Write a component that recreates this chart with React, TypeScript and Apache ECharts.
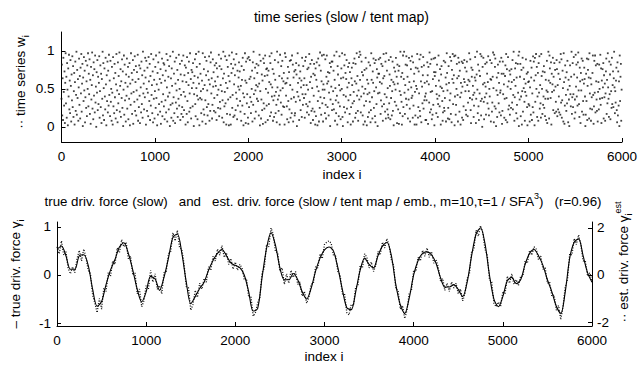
import React, { useEffect, useRef } from "react";
import * as echarts from "echarts";

// ---------- data ----------
const xTicks = [0, 1000, 2000, 3000, 4000, 5000, 6000];
const wTicks = [0, 0.5, 1];
const gammaTicks = [-1, 0, 1];
const gammaEstTicks = [-2, 0, 2];

// time series w_i (percent), one value every W_STEP indices
const W_STEP = 4;
const wPct = [
37,82,15,64,9,91,46,28,73,5,58,97,31,66,12,84,49,2,77,40,95,23,61,18,88,
54,7,69,35,93,26,80,13,47,71,3,59,86,21,42,99,16,75,38,63,8,52,90,29,67,
11,78,44,96,20,57,83,1,65,34,92,48,74,6,39,87,25,60,14,81,50,97,27,70,43,
89,17,62,4,79,36,55,98,24,68,10,85,41,76,19,94,32,53,0,72,45,88,22,66,30,
58,93,12,47,81,26,70,5,63,37,99,15,84,51,9,77,40,23,91,56,2,68,34,86,19,
74,28,95,42,61,14,87,33,50,8,79,45,3,92,27,64,18,83,39,71,11,56,96,22,48,
6,85,31,67,43,98,20,54,76,13,60,38,89,25,73,1,49,94,16,82,35,58,7,69,41,
90,24,53,79,10,66,37,84,2,57,29,97,44,71,17,62,88,4,46,75,33,93,21,59,80,
15,48,72,36,95,8,63,26,81,41,5,77,52,19,86,30,68,12,99,44,57,23,74,39,91,
65,3,87,50,21,78,45,14,92,60,34,83,9,67,28,96,42,55,18,73,6,89,37,62,11,
47,79,25,94,38,56,2,71,16,85,49,30,98,63,20,76,4,58,33,90,14,68,43,84,27,
82,10,61,35,74,19,96,52,7,88,40,66,23,80,45,1,93,29,64,12,77,54,31,99,8,
39,70,18,86,5,57,32,91,48,24,75,13,62,37,95,28,50,83,9,69,42,17,87,26,60,
13,94,46,22,68,81,40,3,78,59,17,92,34,6,71,55,86,20,44,97,25,63,11,75,51,
72,27,84,58,1,43,67,89,30,14,96,51,79,41,10,65,36,99,57,2,83,38,70,47,18,
36,61,7,97,50,23,76,16,55,92,35,4,68,87,26,48,15,73,30,62,93,8,56,21,85,
98,44,64,11,29,89,53,72,21,38,81,60,19,54,84,9,77,42,66,25,49,95,14,80,33,
24,55,90,76,47,12,35,64,99,6,70,27,46,93,31,58,3,88,17,51,79,36,67,2,94,
60,16,39,3,83,71,98,25,42,77,13,89,56,15,68,82,22,45,96,37,10,74,28,53,65,
85,49,73,34,20,54,8,80,62,28,91,44,2,75,39,17,97,61,5,86,58,31,43,90,12,
4,92,26,63,88,39,66,18,33,50,74,7,85,29,99,43,64,11,78,48,20,55,83,37,71,
53,34,81,15,57,95,2,47,87,11,36,69,22,61,4,90,31,84,24,67,94,6,50,76,28,
77,68,9,45,74,30,59,93,14,84,56,19,97,40,52,76,8,35,70,13,41,88,62,18,46,
29,6,99,52,36,85,21,41,67,3,95,48,32,80,16,64,87,51,27,60,71,26,3,97,57,
92,41,58,27,10,64,79,34,6,72,23,87,55,12,88,37,18,94,49,82,7,65,39,73,15,
18,75,33,84,69,1,46,97,58,40,81,9,64,35,73,22,52,61,13,91,43,29,80,55,38,
64,12,87,43,92,30,55,19,76,27,49,78,16,96,33,59,83,5,66,21,88,51,24,9,70,
41,83,20,68,3,77,14,62,85,53,2,34,90,47,7,81,25,98,39,74,16,60,94,31,49,
7,56,95,38,49,18,89,29,11,66,94,57,26,72,60,15,45,71,84,1,36,79,53,86,22,
86,30,47,74,23,94,62,8,51,35,18,99,41,3,80,69,32,14,55,93,27,48,10,64,77,
50,97,13,1,65,42,26,81,95,19,71,40,63,88,24,52,6,79,35,58,84,17,72,42,3,
26,64,78,55,31,7,84,46,34,90,60,12,83,18,57,97,41,67,21,8,48,92,36,99,62,
95,19,40,86,72,53,15,68,3,44,28,75,7,50,91,34,77,2,62,43,13,57,85,19,45,
33,81,6,22,97,62,39,11,73,58,90,25,47,84,14,6,88,52,30,76,65,1,44,70,89,
70,45,59,91,17,35,83,57,27,80,8,64,96,30,67,43,20,86,11,97,39,74,23,51,16,
12,88,31,69,54,10,92,38,62,15,47,86,21,59,2,78,56,33,73,49,91,28,66,5,82,
57,23,74,4,80,47,18,99,42,66,33,3,71,14,94,26,63,99,45,17,55,82,37,93,29,
81,66,11,49,36,91,59,24,7,87,76,52,38,93,41,12,85,28,60,70,3,46,15,78,54,
3,50,96,77,12,26,73,44,89,21,14,95,60,6,79,53,31,68,92,24,81,35,58,40,9,
44,9,35,60,85,68,4,79,56,32,98,19,83,46,23,89,10,47,16,63,29,90,72,2,67,
91,72,54,18,43,82,37,13,30,94,61,41,27,76,53,3,69,80,51,34,8,19,47,87,25,
21,38,85,65,7,56,97,71,48,11,25,80,58,10,35,92,44,17,87,6,75,63,96,30,58,
68,93,2,40,94,16,29,50,83,64,42,7,91,67,85,20,74,39,3,58,45,86,12,53,84,
9,27,63,88,59,78,47,22,16,73,86,55,14,32,62,47,97,60,38,89,22,5,78,66,36,
75,54,42,13,28,45,65,92,61,5,37,69,99,49,18,82,27,9,74,44,67,96,34,15,93,
37,0,79,56,91,33,10,58,39,83,53,16,44,85,70,31,59,93,24,15,50,40,88,63,7,
62,84,20,32,66,98,51,6,95,27,79,90,24,1,48,65,13,42,82,71,31,58,19,86,45,
48,15,91,70,4,21,86,43,70,56,12,37,67,81,9,96,38,76,6,53,92,23,60,28,74,
16,69,50,25,76,59,32,88,23,42,99,62,8,39,77,54,84,18,65,29,11,83,45,94,1,
99,36,66,83,14,40,75,3,47,91,20,78,51,63,33,8,46,57,89,41,70,26,2,72,59,
30,60,28,7,52,87,16,65,78,9,44,26,93,19,86,61,2,91,33,68,96,50,79,13,40,
71,8,84,45,93,24,55,31,12,96,67,50,17,73,29,40,80,25,72,14,37,62,9,48,87,
5,46,37,99,61,11,94,77,58,38,85,3,70,46,56,91,22,66,48,84,18,75,53,33,20,
88,76,14,55,23,70,40,19,85,63,16,96,32,89,12,35,74,51,7,97,59,4,28,81,65,
42,21,72,31,87,49,6,62,36,1,54,81,43,27,66,99,17,39,84,26,43,92,69,11,36,
19,95,53,82,40,65,28,85,98,48,30,13,78,60,5,71,48,90,20,62,87,34,16,57,78,
63,40,1,16,70,34,90,9,54,75,89,65,11,97,44,24,64,8,56,39,23,71,94,42,4,
27,87,45,94,19,81,60,36,21,83,7,46,59,23,82,50,37,95,29,77,5,61,38,76,52,
84,11,68,39,57,8,44,73,90,17,62,31,97,52,37,13,86,43,69,10,82,47,25,91,30,
55,73,26,64,99,52,18,47,32,61,78,22,6,85,15,73,28,60,1,94,34,66,83,8,49
];

// true driving force gamma_i, one value every GAMMA_STEP indices
const GAMMA_STEP = 50;
const gammaTrue = [
0.53,0.60,0.40,0.12,0.12,0.40,0.42,0.20,-0.30,-0.65,
-0.55,-0.20,0.10,0.32,0.58,0.67,0.45,0.10,-0.30,-0.56,
-0.35,-0.03,-0.08,-0.32,-0.05,0.35,0.78,0.85,0.45,-0.15,
-0.60,-0.45,-0.28,-0.15,0.10,0.30,0.45,0.53,0.40,0.25,
0.20,0.15,0.00,-0.35,-0.75,-0.70,-0.05,0.55,0.88,0.62,
0.15,-0.10,-0.10,0.03,-0.10,-0.35,-0.50,-0.28,0.08,0.35,
0.52,0.58,0.50,0.15,-0.30,-0.68,-0.72,-0.35,0.10,0.35,
0.22,0.15,0.40,0.60,0.68,0.40,-0.20,-0.62,-0.80,-0.48,
0.00,0.30,0.45,0.48,0.42,0.25,-0.05,-0.25,-0.25,-0.20,
-0.30,-0.45,-0.15,0.40,0.85,0.98,0.65,0.00,-0.50,-0.66,
-0.45,-0.12,-0.05,-0.18,-0.10,0.22,0.45,0.53,0.40,0.20,
-0.10,-0.35,-0.65,-0.80,-0.35,0.35,0.68,0.75,0.40,0.05,
-0.15
];

// estimated driving force gamma_i^est, one value every EST_STEP indices
const EST_STEP = 25;
const gammaEst = [
1.2,0.9,1.45,0.85,1.0,0.3,0.05,0.35,0.1,0.7,1.05,0.6,1.1,0.75,0.2,0.05,-0.85,-1.2,-1.6,-1.0,
-1.45,-0.55,-0.7,0.1,-0.05,0.6,0.45,1.15,0.95,1.5,1.2,1.4,0.7,0.8,0.0,0.1,-0.8,-0.6,-1.35,-1.1,
-0.45,-0.6,0.2,-0.3,0.05,-0.6,-0.45,-0.8,0.1,0.15,0.9,1.0,1.8,1.45,1.9,1.15,1.1,0.45,-0.5,-0.55,
-1.5,-1.25,-0.65,-0.95,-0.35,-0.6,-0.15,-0.3,0.35,0.2,0.8,0.6,1.1,0.85,1.25,0.75,0.95,0.45,0.7,0.25,
0.55,0.2,0.45,0.3,-0.2,-0.15,-0.95,-0.9,-1.75,-1.6,-1.2,-0.95,0.1,0.3,1.3,1.2,2.0,1.75,1.0,0.95,
0.15,0.3,-0.4,0.05,-0.35,0.2,-0.1,0.15,-0.4,-0.3,-0.9,-0.7,-1.2,-0.95,-0.4,-0.35,0.35,0.3,0.9,0.7,
1.3,1.4,1.45,1.35,0.85,0.8,0.15,0.0,-0.8,-0.8,-1.6,-1.7,-1.25,-1.3,-0.5,-0.45,0.4,0.3,0.9,0.75,
0.3,0.55,0.15,0.4,1.0,0.85,1.4,1.15,1.55,1.25,0.65,0.4,-0.6,-0.65,-1.45,-1.3,-1.85,-1.5,-0.8,-0.65,
0.2,0.15,0.75,0.6,1.05,0.8,1.15,0.75,1.0,0.5,0.65,0.35,-0.25,-0.15,-0.65,-0.35,-0.7,-0.3,-0.55,-0.35,
-0.8,-0.6,-1.1,-0.8,-0.15,0.05,1.0,1.1,1.9,1.65,2.1,1.8,1.1,0.85,-0.2,-0.3,-1.2,-1.35,-1.15,-1.35,
-0.7,-0.8,-0.05,-0.35,0.05,-0.4,-0.2,-0.45,-0.05,-0.05,0.6,0.5,1.05,0.85,1.2,1.1,0.65,0.8,0.25,0.3,
-0.35,-0.3,-0.9,-0.85,-1.5,-1.3,-1.9,-1.35,-0.5,-0.2,0.9,0.85,1.55,1.3,1.7,1.3,0.6,0.6,-0.05,0.1,
-0.25
];

// ---------- styling ----------
const FONT = "'Liberation Sans', Arial, Helvetica, sans-serif";
const INK = "#000";
const TICK_FS = 13.5;

const axisCommon = {
  axisLine: { show: true, onZero: false, lineStyle: { color: INK, width: 1 } },
  axisTick: { show: true, inside: true, length: 4, lineStyle: { color: INK } },
  axisLabel: { color: INK, fontSize: TICK_FS, fontFamily: FONT, formatter: (v: number) => String(v) },
  splitLine: { show: false },
};

const rich = {
  t: { fontSize: 13.5, fontFamily: FONT, color: INK, lineHeight: 20 },
  s: { fontSize: 13.3, fontFamily: FONT, color: INK, lineHeight: 20 },
  sub: { fontSize: 9, fontFamily: FONT, color: INK, verticalAlign: "bottom", lineHeight: 20 },
  sup: { fontSize: 9, fontFamily: FONT, color: INK, verticalAlign: "top", lineHeight: 20 },
};

function buildOption() {
  const wData = wPct.map((v, k) => [k * W_STEP, v / 100]);
  const trueData = gammaTrue.map((v, k) => [k * GAMMA_STEP, v]);
  const estData = gammaEst.map((v, k) => [k * EST_STEP, v]);

  return {
    animation: false,
    backgroundColor: "#fff",
    grid: [
      { left: 61.5, top: 32, width: 560.5, height: 110 },
      { left: 57, top: 222, width: 535, height: 104 },
    ],
    xAxis: [
      {
        ...axisCommon,
        type: "value",
        gridIndex: 0,
        min: 0,
        max: 6000,
        interval: 1000,
        axisLabel: { ...axisCommon.axisLabel, margin: 7 },
      },
      {
        ...axisCommon,
        type: "value",
        gridIndex: 1,
        min: 0,
        max: 6000,
        interval: 1000,
        axisLabel: { ...axisCommon.axisLabel, margin: 7 },
      },
    ],
    yAxis: [
      {
        ...axisCommon,
        type: "value",
        gridIndex: 0,
        min: -0.2,
        max: 1.25,
        axisTick: { ...axisCommon.axisTick, customValues: wTicks },
        axisLabel: { ...axisCommon.axisLabel, customValues: wTicks, margin: 7 },
      },
      {
        ...axisCommon,
        type: "value",
        gridIndex: 1,
        min: -1.06,
        max: 1.1,
        axisTick: { ...axisCommon.axisTick, customValues: gammaTicks },
        axisLabel: { ...axisCommon.axisLabel, customValues: gammaTicks, margin: 6 },
      },
      {
        ...axisCommon,
        type: "value",
        gridIndex: 1,
        position: "right",
        min: -2.17,
        max: 2.255,
        axisTick: { ...axisCommon.axisTick, customValues: gammaEstTicks },
        axisLabel: { ...axisCommon.axisLabel, customValues: gammaEstTicks, margin: 5 },
      },
    ],
    series: [
      {
        type: "scatter",
        xAxisIndex: 0,
        yAxisIndex: 0,
        data: wData,
        symbol: "rect",
        symbolSize: 1.8,
        itemStyle: { color: "#111" },
        silent: true,
      },
      {
        type: "line",
        xAxisIndex: 1,
        yAxisIndex: 2,
        data: estData,
        showSymbol: false,
        lineStyle: { color: "#111", width: 1.3, type: [1, 1.6] },
        silent: true,
        z: 2,
      },
      {
        type: "line",
        xAxisIndex: 1,
        yAxisIndex: 1,
        data: trueData,
        showSymbol: false,
        smooth: 0.3,
        lineStyle: { color: INK, width: 1.1 },
        silent: true,
        z: 3,
      },
    ],
    graphic: [
      {
        type: "text",
        x: 341.5,
        y: 17,
        style: {
          text: "time series (slow / tent map)",
          font: `14px ${FONT}`,
          fill: INK,
          align: "center",
          verticalAlign: "middle",
        },
      },
      {
        type: "text",
        x: 342,
        y: 174,
        style: {
          text: "index i",
          font: `13.5px ${FONT}`,
          fill: INK,
          align: "center",
          verticalAlign: "middle",
        },
      },
      {
        type: "text",
        x: 20,
        y: 82,
        rotation: Math.PI / 2,
        style: {
          text: "{t|·· time series w}{sub|i}",
          rich,
          align: "center",
          verticalAlign: "middle",
        },
      },
      {
        type: "text",
        x: 323,
        y: 201,
        style: {
          text: "{s|true driv. force (slow)   and   est. driv. force (slow / tent map / emb., m=10,τ=1 / SFA}{sup|3}{s|)   (r=0.96)}",
          rich,
          align: "center",
          verticalAlign: "middle",
        },
      },
      {
        type: "text",
        x: 324,
        y: 356,
        style: {
          text: "index i",
          font: `13.5px ${FONT}`,
          fill: INK,
          align: "center",
          verticalAlign: "middle",
        },
      },
      {
        type: "text",
        x: 15,
        y: 274,
        rotation: Math.PI / 2,
        style: {
          text: "{t|– true driv. force γ}{sub|i}",
          rich,
          align: "center",
          verticalAlign: "middle",
        },
      },
      {
        type: "text",
        x: 623,
        y: 262,
        rotation: Math.PI / 2,
        style: {
          text: "{t|·· est. driv. force γ}{sub|i}{sup|est}",
          rich,
          align: "center",
          verticalAlign: "middle",
        },
      },
    ],
  };
}

export default function App() {
  const ref = useRef<HTMLDivElement>(null);
  useEffect(() => {
    if (!ref.current) return;
    const chart = echarts.init(ref.current, null, { renderer: "svg" });
    chart.setOption(buildOption() as any);
    return () => chart.dispose();
  }, []);
  return (
    <div
      ref={ref}
      style={{ position: "absolute", left: 0, top: 0, width: 640, height: 365, background: "#fff" }}
    />
  );
}
